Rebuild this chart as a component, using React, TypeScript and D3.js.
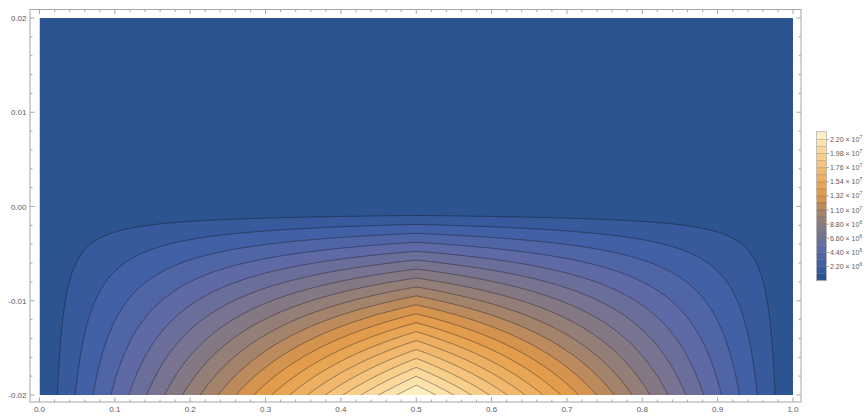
import React from "react";
import * as d3 from "d3";

// axis ticks
const xTicks = [0, 0.1, 0.2, 0.3, 0.4, 0.5, 0.6, 0.7, 0.8, 0.9, 1.0];
const yTicks = [-0.02, -0.01, 0, 0.01, 0.02];

// contour levels (every 1.1e6) and the labelled ones of the bar legend
const contourLevels = [
  1.1e6, 2.2e6, 3.3e6, 4.4e6, 5.5e6, 6.6e6, 7.7e6, 8.8e6, 9.9e6, 1.1e7,
  1.21e7, 1.32e7, 1.43e7, 1.54e7, 1.65e7, 1.76e7, 1.87e7, 1.98e7, 2.09e7, 2.2e7
];
const legendTicks = [2.2e6, 4.4e6, 6.6e6, 8.8e6, 1.1e7, 1.32e7, 1.54e7, 1.76e7, 1.98e7, 2.2e7];

// field estimate: peak at (0.5, -0.02), zero above y = 0
const peakValue = 2.32e7;
const depth = 0.02;
const blend = 0.25;

const colorPos = [0, 0.12, 0.21, 0.31, 0.45, 0.545, 0.6, 0.74, 0.88, 1];
const colorHex = [
  "#25518a", "#4260a6", "#5d69a6", "#777391", "#a3836c",
  "#d4934e", "#e49d4a", "#f2b96e", "#fbd99c", "#fff5c8"
];

const W = 868;
const H = 416;
const plot = { left: 39.5, right: 793, top: 18, bottom: 395 };
const frame = { left: 30, right: 801, top: 9.5, bottom: 402 };

function field(x: number, y: number) {
  const s = -y / depth;
  if (s <= 0) return 0;
  const t = Math.max(1e-6, 1 - Math.abs(2 * x - 1));
  return peakValue * Math.pow(Math.pow(s, -blend) + Math.pow(t, -blend) - 1, -1 / blend);
}

const color = d3
  .scaleLinear<string>()
  .domain(colorPos)
  .range(colorHex)
  .interpolate(d3.interpolateRgb);

const fontFamily = "'Liberation Sans', Arial, sans-serif";
const labelColor = "#5a5a5a";
const frameColor = "#a6a6a6";

const ContourLayer = ({ xs, ys }) => {
  const dx = 1 / 400;
  const dy = 0.0001;
  const x0 = -0.02;
  const y0 = -0.0225;
  const nx = 417;
  const ny = 236;
  const values = new Array(nx * ny);
  for (let j = 0; j < ny; j++) {
    for (let i = 0; i < nx; i++) {
      values[j * nx + i] = field(x0 + i * dx, y0 + j * dy);
    }
  }

  const polys = d3.contours().size([nx, ny]).thresholds(contourLevels)(values);

  const proj = d3.geoTransform({
    point: function (px, py) {
      this.stream.point(xs(x0 + (px - 0.5) * dx), ys(y0 + (py - 0.5) * dy));
    }
  });
  const path = d3.geoPath(proj);

  const bandColor = (k: number) => {
    const lo = k === 0 ? 0 : contourLevels[k - 1];
    const hi = k < contourLevels.length ? contourLevels[k] : peakValue;
    return color((lo + hi) / 2 / peakValue);
  };

  return (
    <g clipPath="url(#plotClip)">
      <rect
        x={plot.left}
        y={plot.top}
        width={plot.right - plot.left}
        height={plot.bottom - plot.top}
        fill={bandColor(0)}
      />
      {polys.map((p, k) => (
        <path key={"f" + k} d={path(p)} fill={bandColor(k + 1)} />
      ))}
      {polys.map((p, k) => (
        <path
          key={"s" + k}
          d={path(p)}
          fill="none"
          stroke="rgba(20,20,30,0.5)"
          strokeWidth={0.8}
        />
      ))}
    </g>
  );
};

const Frame = ({ xs, ys }) => {
  const minorX = xs.ticks(50);
  const minorY = ys.ticks(20);
  const lines = [];
  minorX.forEach((v, i) => {
    const major = xTicks.some(t => Math.abs(t - v) < 1e-9);
    const len = major ? 4.5 : 2.5;
    lines.push(<line key={"xb" + i} x1={xs(v)} x2={xs(v)} y1={frame.bottom} y2={frame.bottom - len} />);
    lines.push(<line key={"xt" + i} x1={xs(v)} x2={xs(v)} y1={frame.top} y2={frame.top + len} />);
  });
  minorY.forEach((v, i) => {
    const major = yTicks.some(t => Math.abs(t - v) < 1e-9);
    const len = major ? 4.5 : 2.5;
    lines.push(<line key={"yl" + i} y1={ys(v)} y2={ys(v)} x1={frame.left} x2={frame.left + len} />);
    lines.push(<line key={"yr" + i} y1={ys(v)} y2={ys(v)} x1={frame.right} x2={frame.right - len} />);
  });

  return (
    <g>
      <rect
        x={frame.left}
        y={frame.top}
        width={frame.right - frame.left}
        height={frame.bottom - frame.top}
        fill="none"
        stroke={frameColor}
        strokeWidth={1}
      />
      <g stroke={frameColor} strokeWidth={1}>{lines}</g>
      <g fontFamily={fontFamily} fontSize={8} fill={labelColor}>
        {xTicks.map(v => (
          <text key={"xl" + v} x={xs(v)} y={412} textAnchor="middle">
            {v.toFixed(1)}
          </text>
        ))}
        {yTicks.map(v => (
          <text key={"yl" + v} x={26.5} y={ys(v) + 3} textAnchor="end">
            {v.toFixed(2)}
          </text>
        ))}
      </g>
    </g>
  );
};

const Legend = () => {
  const barX = 816.5;
  const barW = 10;
  const ls = d3.scaleLinear().domain([0, peakValue]).range([280.7, 131.7]);
  const edges = [0, ...contourLevels, peakValue];
  return (
    <g>
      {edges.slice(0, -1).map((lo, k) => {
        const hi = edges[k + 1];
        return (
          <rect
            key={"b" + k}
            x={barX}
            y={ls(hi)}
            width={barW}
            height={ls(lo) - ls(hi)}
            fill={color((lo + hi) / 2 / peakValue)}
          />
        );
      })}
      {contourLevels.map(v => (
        <line
          key={"c" + v}
          x1={barX}
          x2={barX + barW}
          y1={ls(v)}
          y2={ls(v)}
          stroke="rgba(20,20,30,0.35)"
          strokeWidth={0.6}
        />
      ))}
      <rect
        x={barX}
        y={ls(peakValue)}
        width={barW}
        height={ls(0) - ls(peakValue)}
        fill="none"
        stroke="#b5b5b5"
        strokeWidth={0.8}
      />
      <g fontFamily={fontFamily} fontSize={7} fill={labelColor}>
        {legendTicks.map(v => {
          const exp = Math.floor(Math.log10(v));
          const mant = (v / Math.pow(10, exp)).toFixed(2);
          return (
            <g key={"t" + v}>
              <line x1={barX + barW} x2={barX + barW + 2.5} y1={ls(v)} y2={ls(v)} stroke={frameColor} />
              <text x={830} y={ls(v) + 2.5}>
                {mant + " \u00d7 10"}
                <tspan dy={-3} fontSize={5}>{exp}</tspan>
              </text>
            </g>
          );
        })}
      </g>
    </g>
  );
};

export default function App() {
  const xs = d3.scaleLinear().domain([0, 1]).range([plot.left, plot.right]);
  const ys = d3.scaleLinear().domain([-0.02, 0.02]).range([plot.bottom, plot.top]);

  return (
    <svg
      width={W}
      height={H}
      style={{ position: "absolute", left: 0, top: 0, background: "#fff" }}
    >
      <defs>
        <clipPath id="plotClip">
          <rect
            x={plot.left}
            y={plot.top}
            width={plot.right - plot.left}
            height={plot.bottom - plot.top}
          />
        </clipPath>
      </defs>
      <ContourLayer xs={xs} ys={ys} />
      <Frame xs={xs} ys={ys} />
      <Legend />
    </svg>
  );
}
